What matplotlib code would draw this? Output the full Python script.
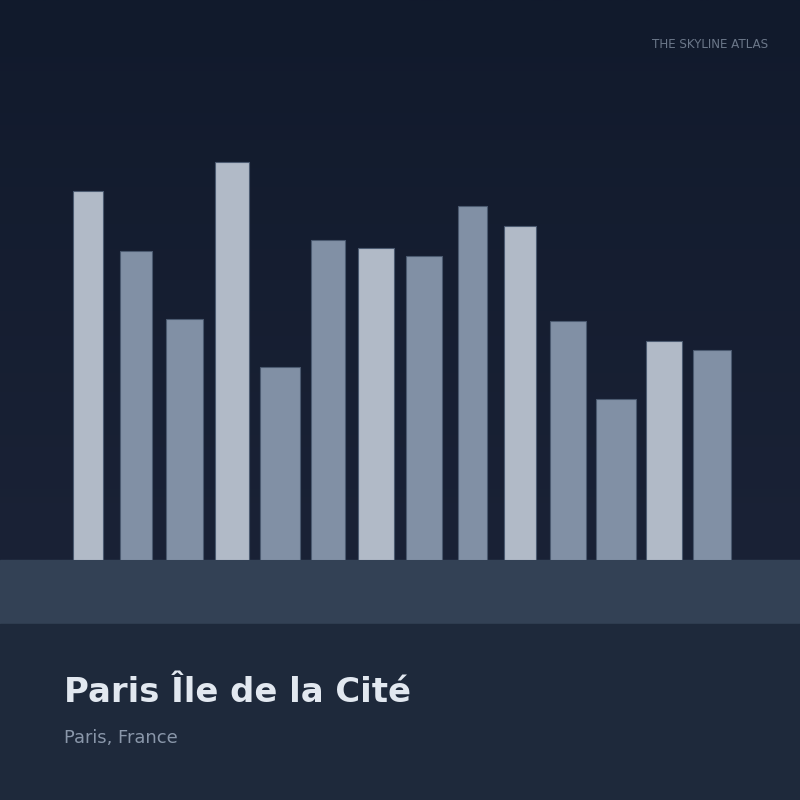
import matplotlib
matplotlib.use("Agg")
import matplotlib.pyplot as plt
import numpy as np
from matplotlib.colors import LinearSegmentedColormap

# skyline buildings, left to right
heights = [369, 309, 241, 398, 193, 320, 312, 304, 354, 334, 239, 161, 219, 210]
tones = ["light", "dark", "dark", "light", "dark", "dark", "light",
         "dark", "dark", "light", "dark", "dark", "light", "dark"]

# layout (pixels on an 800 px canvas)
lefts = [72.5, 119.5, 165.5, 214.8, 259.7, 310.5, 358.2, 406.2, 457.5, 503.5, 550.2, 595.8, 645.5, 693.2]
widths = [30.8, 32.8, 37.0, 34.2, 40.6, 34.8, 35.4, 35.8, 29.2, 32.8, 35.4, 40.2, 36.8, 37.4]

title = "Paris Île de la Cité"
subtitle = "Paris, France"
brand = "THE SKYLINE ATLAS"

TONE_COLORS = {"light": "#b1bac7", "dark": "#8190a5"}
GROUND_Y = 560
GROUND_H = 64


def main() -> None:
    plt.rcParams["font.family"] = ["DejaVu Sans"]

    fig = plt.figure(figsize=(8, 8), dpi=100)

    # background canvas in pixel coordinates (y downwards)
    bg = fig.add_axes([0, 0, 1, 1])
    bg.set_xlim(0, 800)
    bg.set_ylim(800, 0)
    bg.axis("off")

    sky = LinearSegmentedColormap.from_list("sky", ["#111a2c", "#1a2236"])
    grad = np.linspace(0, 1, 256).reshape(-1, 1)
    bg.imshow(grad, cmap=sky, extent=(0, 800, GROUND_Y, 0), aspect="auto", zorder=0)

    bg.add_patch(plt.Rectangle((0, GROUND_Y), 800, GROUND_H, color="#334155", zorder=1))
    bg.add_patch(plt.Rectangle((0, GROUND_Y + GROUND_H), 800, 800 - GROUND_Y - GROUND_H,
                               color="#1e293b", zorder=1))

    # skyline axes: bottom at the ground line
    ax = fig.add_axes([0, (800 - GROUND_Y) / 800, 1, GROUND_Y / 800])
    ax.set_xlim(0, 800)
    ax.set_ylim(0, GROUND_Y)
    ax.axis("off")
    ax.patch.set_alpha(0)

    ax.bar(
        lefts,
        heights,
        width=widths,
        align="edge",
        color=[TONE_COLORS[t] for t in tones],
        edgecolor="#4b5a70",
        linewidth=0.8,
        zorder=2,
    )

    fig.text(768 / 800, 1 - 44 / 800, brand, ha="right", va="center",
             fontsize=8.6, color="#6b7789")
    fig.text(64 / 800, 1 - 692 / 800, title, ha="left", va="center",
             fontsize=24.4, fontweight="bold", color="#e2e8f0")
    fig.text(64 / 800, 1 - 738 / 800, subtitle, ha="left", va="center",
             fontsize=12.9, color="#8a97aa")

    fig.savefig("out.png", dpi=100, facecolor="#111a2c")


if __name__ == "__main__":
    main()
